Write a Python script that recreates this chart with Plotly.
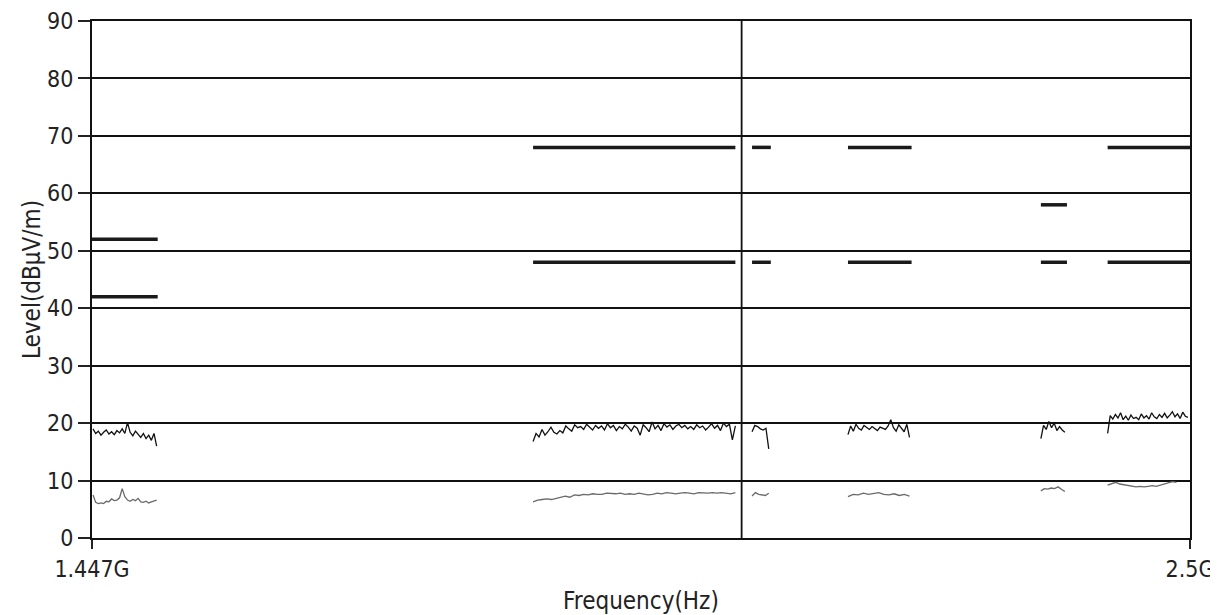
import numpy as np
import plotly.graph_objects as go

# ---- data ----
marker_freq = 2.07e9

lim_start = [1.447e9, 1.870e9, 2.080e9, 2.172e9, 2.357e9, 2.421e9]
lim_stop = [1.510e9, 2.064e9, 2.098e9, 2.233e9, 2.382e9, 2.500e9]
lim_upper = [52, 68, 68, 68, 58, 68]
lim_lower = [42, 48, 48, 48, 48, 48]

peak_start = [1.448e9, 1.870e9, 2.080e9, 2.172e9, 2.357e9, 2.421e9]
peak_stop = [1.509e9, 2.064e9, 2.096e9, 2.231e9, 2.380e9, 2.498e9]
peak_A = [19.0, 18.2, 18.6, 17.9, 18.4, 18.8, 18.1, 18.5, 18.0, 18.7, 18.3, 19.0, 18.2,
          20.1, 18.4, 17.8, 18.6, 18.0, 17.5, 18.2, 17.3, 17.9, 17.0, 18.2, 16.0]
peak_B = [16.8, 18.2, 17.6, 18.9, 17.9, 18.5, 19.3, 18.4, 18.1, 18.7, 18.3, 19.5, 19.0,
          18.6, 19.7, 19.2, 19.4, 18.9, 19.8, 19.3, 18.8, 19.6, 19.1, 19.5, 18.8, 19.9,
          19.2, 19.6, 18.7, 19.4, 19.0, 19.8, 19.3, 18.6, 19.5, 19.1, 17.9, 19.7, 19.2,
          18.5, 20.2, 19.0, 19.6, 18.7, 19.9, 19.3, 19.7, 18.9, 19.5, 19.8, 19.2, 19.6,
          19.0, 19.4, 18.9, 19.7, 19.2, 19.5, 18.8, 19.3, 19.9, 19.1, 19.6, 18.7, 20.0,
          19.4, 19.8, 17.1, 19.5]
peak_C = [18.5, 19.6, 19.4, 19.0, 18.8, 19.1, 15.5]
peak_D = [18.0, 19.5, 18.6, 19.8, 19.1, 18.8, 19.6, 19.2, 18.9, 19.4, 19.0, 18.7, 19.3,
          19.1, 18.9, 19.5, 20.6, 19.2, 18.6, 19.7, 19.0, 18.5, 19.8, 17.5]
peak_E = [17.3, 19.6, 18.9, 20.3, 19.2, 20.0, 18.7, 19.4, 18.8, 18.4]
peak_F = [18.2, 21.3, 20.7, 21.5, 20.9, 21.8, 20.6, 21.2, 20.5, 21.4, 20.8, 21.0, 20.6,
          21.6, 20.9, 21.3, 20.7, 21.8, 21.1, 20.8, 21.5, 21.0, 21.7, 20.9, 21.4, 22.0,
          21.1, 21.6, 20.8, 21.9, 21.2, 21.0]

avg_start = [1.448e9, 1.870e9, 2.080e9, 2.172e9, 2.357e9, 2.421e9]
avg_stop = [1.509e9, 2.064e9, 2.096e9, 2.231e9, 2.380e9, 2.487e9]
avg_A = [7.5, 6.2, 6.0, 6.1, 6.0, 6.4, 6.3, 6.8, 6.5, 6.6, 7.0, 8.6, 7.2, 6.6, 6.4,
         6.7, 6.5, 6.9, 6.3, 6.2, 6.4, 6.1, 6.3, 6.5, 6.6]
avg_B = [6.3, 6.6, 6.7, 6.8, 6.7, 6.9, 7.2, 7.3, 7.1, 7.5, 7.4, 7.6, 7.5, 7.7, 7.6,
         7.6, 7.8, 7.7, 7.7, 7.8, 7.6, 7.7, 7.6, 7.8, 7.7, 7.5, 7.6, 7.8, 7.7, 7.9,
         7.8, 7.7, 7.8, 7.9, 7.8, 7.7, 7.9, 7.8, 7.8, 7.9, 7.8, 7.9, 7.8, 7.7, 7.9]
avg_C = [7.3, 7.9, 7.6, 7.5, 7.4, 7.8]
avg_D = [7.2, 7.6, 7.5, 7.8, 7.6, 7.7, 7.9, 7.6, 7.5, 7.7, 7.4, 7.6, 7.3]
avg_E = [8.2, 8.6, 8.5, 8.7, 8.6, 8.9, 8.5, 8.1]
avg_F = [9.2, 9.5, 9.7, 9.4, 9.3, 9.1, 9.0, 8.9, 9.0, 8.9, 9.0, 9.1, 9.0, 9.2, 9.3,
         9.6, 9.8, 9.7]

peak_vals = [peak_A, peak_B, peak_C, peak_D, peak_E, peak_F]
avg_vals = [avg_A, avg_B, avg_C, avg_D, avg_E, avg_F]

# ---- figure ----
fig = go.Figure()

# limit lines
for s, e, u, l in zip(lim_start, lim_stop, lim_upper, lim_lower):
    for lev in (u, l):
        fig.add_trace(go.Scatter(x=[s, e], y=[lev, lev], mode="lines",
                                 line=dict(color="#1a1a1a", width=3.5),
                                 showlegend=False, hoverinfo="skip"))

# peak traces
for s, e, v in zip(peak_start, peak_stop, peak_vals):
    fig.add_trace(go.Scatter(x=np.linspace(s, e, len(v)), y=v, mode="lines",
                             line=dict(color="#111111", width=1.3),
                             showlegend=False))

# average traces
for s, e, v in zip(avg_start, avg_stop, avg_vals):
    fig.add_trace(go.Scatter(x=np.linspace(s, e, len(v)), y=v, mode="lines",
                             line=dict(color="#6a6a6a", width=1.3),
                             showlegend=False))

fig.add_shape(type="line", xref="x", yref="paper", x0=marker_freq, x1=marker_freq,
              y0=0, y1=1, line=dict(color="#111111", width=1.8))

font = "DejaVu Sans Condensed, DejaVu Sans, sans-serif"
fig.update_layout(
    width=1210, height=607,
    margin=dict(l=84, r=28, t=13, b=77),
    paper_bgcolor="white", plot_bgcolor="white",
    font=dict(family=font, size=23, color="#222222"),
    xaxis=dict(
        range=[1.447e9, 2.5e9], automargin=False,
        tickvals=[1.447e9, 2.5e9], ticktext=["1.447G", "2.5G"],
        ticklabeloverflow="allow",
        ticks="outside", ticklen=9, tickwidth=1.5, tickcolor="#222",
        showgrid=False, zeroline=False,
        showline=True, linecolor="#111", linewidth=2, mirror=True,
        title=dict(text="Frequency(Hz)", font=dict(size=24), standoff=15),
    ),
    yaxis=dict(
        range=[0, 90], dtick=10, automargin=False,
        ticklabeloverflow="allow",
        ticks="outside", ticklen=12, tickwidth=1.5, tickcolor="#222",
        showgrid=True, gridcolor="#111", gridwidth=1.8, zeroline=False,
        showline=True, linecolor="#111", linewidth=2, mirror=True,
        title=dict(text="Level(dBµV/m)", font=dict(size=24), standoff=0),
    ),
)

fig.write_html("out.html")
